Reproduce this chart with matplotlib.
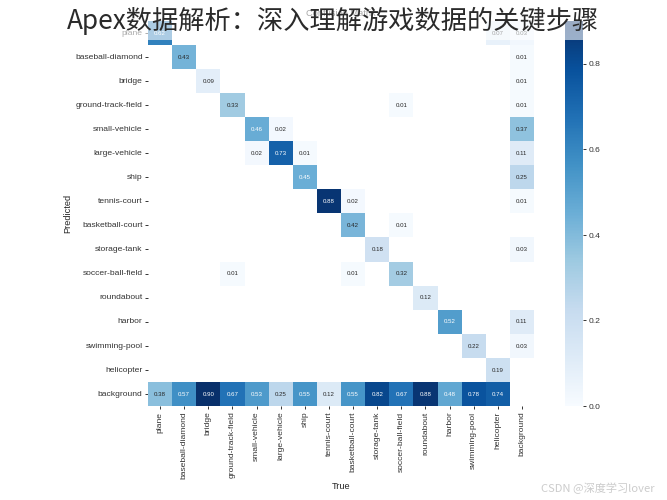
import numpy as np
import matplotlib
matplotlib.use("Agg")
import matplotlib.pyplot as plt
import matplotlib.patches as mpatches
import seaborn as sn

DPI = 667 / 12

names = ["plane", "baseball-diamond", "bridge", "ground-track-field", "small-vehicle",
         "large-vehicle", "ship", "tennis-court", "basketball-court", "storage-tank",
         "soccer-ball-field", "roundabout", "harbor", "swimming-pool", "helicopter"]
labels = names + ["background"]

# diagonal (correct predictions)
diag = [0.62, 0.43, 0.09, 0.33, 0.46, 0.73, 0.45, 0.88, 0.42, 0.18, 0.32, 0.12, 0.52, 0.22, 0.19]
# predicted background, per true class
background_row = [0.38, 0.57, 0.90, 0.67, 0.53, 0.25, 0.55, 0.12, 0.55, 0.82, 0.67, 0.88, 0.48, 0.78, 0.74]
# predicted class, true background
background_col = [0.03, 0.01, 0.01, 0.01, 0.37, 0.11, 0.25, 0.01, 0.00, 0.03, 0.00, 0.00, 0.11, 0.03, 0.00]
# other confusions: (predicted, true, value)
others = [(0, 14, 0.07), (3, 10, 0.01), (4, 5, 0.02), (5, 4, 0.02), (5, 6, 0.01),
          (7, 8, 0.02), (8, 10, 0.01), (10, 3, 0.01), (10, 8, 0.01)]
cbar_ticks = [0.0, 0.2, 0.4, 0.6, 0.8]

nc = len(names)
array = np.zeros((nc + 1, nc + 1))
array[np.arange(nc), np.arange(nc)] = diag
array[nc, :nc] = background_row
array[:nc, nc] = background_col
for r, c, v in others:
    array[r, c] = v
array[array < 0.005] = np.nan

sn.set(font_scale=1.0)
plt.rcParams['font.family'] = ['Liberation Sans', 'Noto Sans CJK SC', 'DejaVu Sans']
plt.rcParams['xtick.bottom'] = True
plt.rcParams['ytick.left'] = True
plt.rcParams['xtick.major.size'] = 3.5
plt.rcParams['ytick.major.size'] = 3.5
plt.rcParams['xtick.color'] = '#333333'
plt.rcParams['ytick.color'] = '#333333'

fig = plt.figure(figsize=(12, 9), dpi=DPI)
ax = fig.add_axes([148 / 667, 94 / 500, 386 / 667, 385 / 500])
cax = fig.add_axes([565 / 667, 94 / 500, 18 / 667, 385 / 500])
sn.heatmap(array, ax=ax, cbar_ax=cax, annot=True, annot_kws={"size": 8}, cmap='Blues',
           fmt='.2f', square=False, vmin=0.0,
           xticklabels=labels, yticklabels=labels).set_facecolor((1, 1, 1))
ax.set_xlabel('True')
ax.set_ylabel('Predicted')
ax.set_title('Confusion Matrix')
ax.set_xticklabels(labels, rotation=90)
ax.set_yticklabels(labels, rotation=0)
cax.set_yticks(cbar_ticks)
cax.set_yticklabels([f"{t:.1f}" for t in cbar_ticks])
cax.tick_params(labelsize=11)

# faded banner with article title on top
fig.patches.append(mpatches.Rectangle((0, 1 - 40 / 500), 1, 40 / 500, transform=fig.transFigure,
                                      facecolor='white', alpha=0.6, edgecolor='none', zorder=10))
fig.text(0.5, 1 - 21 / 500, "Apex数据解析：深入理解游戏数据的关键步骤", ha='center', va='center',
         fontsize=34, color='#2a2a2a', fontweight='light',
         family=['Noto Sans CJK SC', 'DejaVu Sans'], zorder=11)
fig.text(655 / 667, 1 - 488 / 500, "CSDN @深度学习lover", ha='right', va='center',
         fontsize=14.5, color='#cccccc', family=['Noto Sans CJK SC', 'DejaVu Sans'], zorder=11)

fig.savefig("out.png", dpi=DPI)
